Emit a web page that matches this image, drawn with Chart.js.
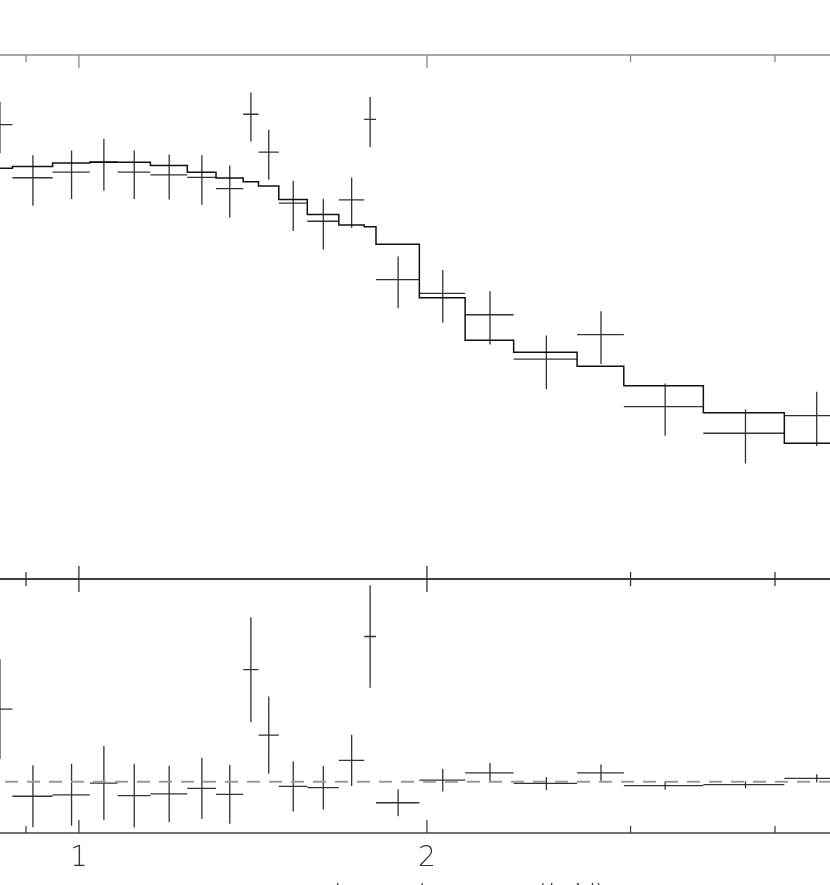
<!DOCTYPE html>
<html>
<head>
<meta charset="utf-8">
<script src="https://cdn.jsdelivr.net/npm/chart.js@4.4.1/dist/chart.umd.min.js"></script>
<style>
  html, body { margin: 0; padding: 0; background: #fff; overflow: hidden; }
  #page { position: relative; width: 830px; height: 885px; overflow: hidden; }
  #spec-box { position: absolute; left: 0; top: 0; width: 830px; height: 600px; }
  #resid-box { position: absolute; left: 0; top: 500px; width: 830px; height: 420px; }
  #xlabel {
    position: absolute; left: 462px; top: 880px; transform: translateX(-50%);
    font-family: "DejaVu Sans", sans-serif; font-weight: 200; font-size: 27px;
    line-height: 28px; color: #333; white-space: nowrap;
  }
</style>
</head>
<body>
<div id="page">
  <div id="spec-box"><canvas id="spec"></canvas></div>
  <div id="resid-box"><canvas id="resid"></canvas></div>
  <div id="xlabel">channel energy (keV)</div>
</div>
<script>
// channel bins (keV)
var binEdges = [0.833, 0.876, 0.949, 1.022, 1.080, 1.153, 1.241, 1.314, 1.387, 1.430, 1.489,
                1.576, 1.678, 1.765, 1.807, 1.970, 2.158, 2.377, 2.697, 2.960, 3.468, 4.075, 4.618];
// normalized counts s^-1 keV^-1
var rates = [0.542, 0.340, 0.357, 0.391, 0.357, 0.349, 0.341, 0.309, 0.594, 0.426, 0.272,
             0.232, 0.280, 0.568, 0.139, 0.123, 0.102, 0.069, 0.0856, 0.0455, 0.0360, 0.0420];
var rateErr = [0.120, 0.074, 0.075, 0.088, 0.075, 0.068, 0.073, 0.070, 0.126, 0.092, 0.059,
               0.051, 0.061, 0.123, 0.031, 0.028, 0.0235, 0.016, 0.0195, 0.0103, 0.0084, 0.0098];
var modelRates = [0.370, 0.375, 0.387, 0.3895, 0.3895, 0.379, 0.357, 0.339, 0.328, 0.316, 0.281,
                  0.246, 0.2245, 0.221, 0.1895, 0.1185, 0.0815, 0.0733, 0.0648, 0.0547, 0.0431, 0.0330];
// residuals (data - model)
var residuals = [0.173, -0.0345, -0.031, -0.003, -0.033, -0.029, -0.0155, -0.030, 0.267, 0.111, -0.011,
                 -0.014, 0.051, 0.346, -0.050, 0.004, 0.021, -0.004, 0.021, -0.009, -0.007, 0.008];
var residErr = [0.119, 0.074, 0.074, 0.088, 0.076, 0.067, 0.073, 0.070, 0.125, 0.092, 0.060,
                0.052, 0.061, 0.122, 0.032, 0.027, 0.024, 0.0155, 0.020, 0.010, 0.0083, 0.0098];

var tickValues = [0.9, 1, 2, 3, 4];
var tickLabels = ['', '1', '2', '', ''];
var majorTicks = [1, 2];
var energyRange = [0.8546, 4.463];
var rateRange = [0.01, 1];
var residRange = [-0.122, 0.483];

var thinFont = { family: '"DejaVu Sans", sans-serif', size: 28, weight: '200' };

function crossPoints(vals, errs) {
  var pts = [];
  for (var i = 0; i < vals.length; i++) {
    var lo = binEdges[i], hi = binEdges[i + 1], mid = (lo + hi) / 2;
    pts.push({x: lo, y: vals[i]}, {x: hi, y: vals[i]}, {x: mid, y: null});
    pts.push({x: mid, y: vals[i] - errs[i]}, {x: mid, y: vals[i] + errs[i]}, {x: mid, y: null});
  }
  return pts;
}

// one point per left bin edge plus the closing right edge
function stepPoints(vals) {
  var pts = vals.map(function (v, i) { return {x: binEdges[i], y: v}; });
  pts.push({x: binEdges[vals.length], y: vals[vals.length - 1]});
  return pts;
}

// frame lines on top/bottom of each panel, ticks pointing inward
var panelFrame = {
  id: 'panelFrame',
  afterDatasetsDraw: function (chart, args, opts) {
    var ctx = chart.ctx, a = chart.chartArea, x = chart.scales.x;
    ctx.save();
    ctx.lineWidth = opts.lineWidth;
    [[a.top, 1, opts.topColor], [a.bottom, -1, opts.bottomColor]].forEach(function (edge) {
      var y = edge[0], dir = edge[1];
      ctx.strokeStyle = edge[2];
      ctx.beginPath();
      ctx.moveTo(a.left, y);
      ctx.lineTo(a.right, y);
      tickValues.forEach(function (v) {
        var px = x.getPixelForValue(v);
        var len = majorTicks.indexOf(v) >= 0 ? 13 : 7;
        ctx.moveTo(px, y);
        ctx.lineTo(px, y + dir * len);
      });
      ctx.stroke();
    });
    ctx.restore();
  }
};

function createSpectrum() {
  new Chart(document.getElementById('spec'), {
    type: 'scatter',
    data: {
      datasets: [{
        label: 'model',
        data: stepPoints(modelRates),
        showLine: true, stepped: 'before',
        borderColor: '#111', borderWidth: 1.5, pointRadius: 0
      }, {
        label: 'data',
        data: crossPoints(rates, rateErr),
        showLine: true,
        borderColor: '#333', borderWidth: 1.3, pointRadius: 0
      }]
    },
    options: {
      animation: false, responsive: true, maintainAspectRatio: false, events: [],
      layout: { padding: { top: 55, bottom: 21, left: 0, right: 0 } },
      plugins: {
        legend: { display: false }, tooltip: { enabled: false },
        panelFrame: { lineWidth: 1.3, topColor: '#8a8a8a', bottomColor: '#333' }
      },
      scales: {
        x: { type: 'logarithmic', min: energyRange[0], max: energyRange[1], display: false },
        y: { type: 'logarithmic', min: rateRange[0], max: rateRange[1], display: false }
      }
    },
    plugins: [panelFrame]
  });
}

function createResiduals() {
  new Chart(document.getElementById('resid'), {
    type: 'scatter',
    data: {
      datasets: [{
        label: 'zero',
        data: [{x: energyRange[0], y: 0}, {x: energyRange[1], y: 0}],
        showLine: true,
        borderColor: '#999', borderWidth: 2, borderDash: [13, 9], borderDashOffset: 17,
        pointRadius: 0
      }, {
        label: 'residuals',
        data: crossPoints(residuals, residErr),
        showLine: true,
        borderColor: '#333', borderWidth: 1.3, pointRadius: 0
      }]
    },
    options: {
      animation: false, responsive: true, maintainAspectRatio: false, events: [],
      layout: { padding: { top: 79, bottom: 0, left: 0, right: 0 } },
      plugins: {
        legend: { display: false }, tooltip: { enabled: false },
        panelFrame: { lineWidth: 1.3, topColor: '#333', bottomColor: '#444' }
      },
      scales: {
        x: {
          type: 'logarithmic', min: energyRange[0], max: energyRange[1],
          grid: { display: false, drawTicks: false },
          border: { display: false },
          afterBuildTicks: function (scale) {
            scale.ticks = tickValues.map(function (v) { return { value: v }; });
          },
          afterFit: function (scale) { scale.height = 87; },
          ticks: {
            autoSkip: false, maxRotation: 0, padding: 9, color: '#333', font: thinFont,
            callback: function (value, index) { return tickLabels[index]; }
          }
        },
        y: { type: 'linear', min: residRange[0], max: residRange[1], display: false }
      }
    },
    plugins: [panelFrame]
  });
}

window.addEventListener('load', function () {
  createSpectrum();
  createResiduals();
});
</script>
</body>
</html>
